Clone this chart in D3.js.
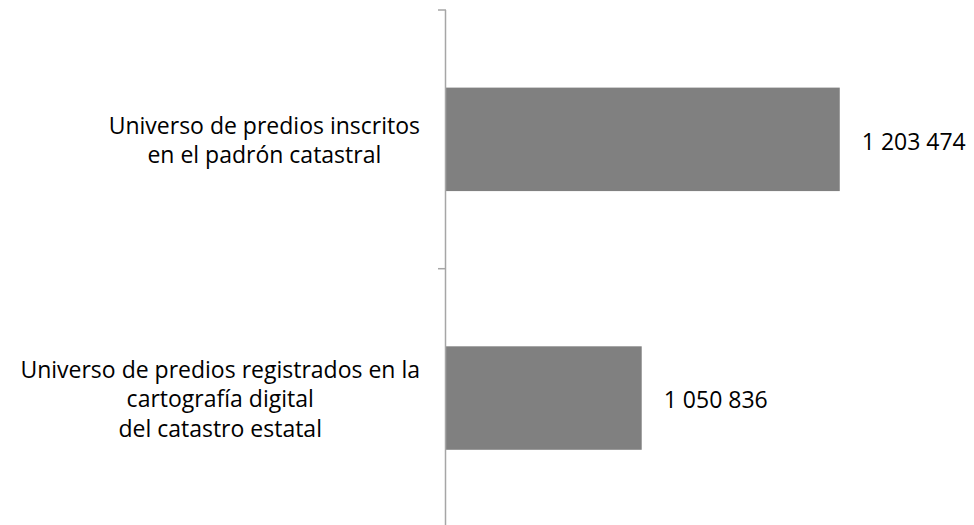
<!DOCTYPE html>
<html>
<head>
<meta charset="utf-8">
<script src="https://cdn.jsdelivr.net/npm/d3@7"></script>
<style>
  body { margin: 0; background: #fff; }
  text { font-family: "Open Sans", Lato, sans-serif; fill: #000; }
</style>
</head>
<body>
<script>
// data
var categories = [
  ["Universo de predios inscritos", "en el padrón catastral"],
  ["Universo de predios registrados en la", "cartografía digital", "del catastro estatal"]
];
var values = [1203474, 1050836];
var xDomain = [900000, 1300000];

var width = 974, height = 525;
var axisX = 446;
var fontSize = "23px";

var fmt = d3.formatLocale({ decimal: ".", thousands: " ", grouping: [3], currency: ["", ""] }).format(",d");

var svg = d3.select("body")
  .append("svg")
    .attr("width", width)
    .attr("height", height);

var x = d3.scaleLinear()
  .domain(xDomain)
  .range([axisX, 965]);

var y = d3.scaleBand()
  .domain(d3.range(values.length))
  .range([10, 527.4])
  .paddingInner(0.6)
  .paddingOuter(0.3);

// bars
svg.selectAll("rect.bar")
  .data(values)
  .enter()
  .append("rect")
    .attr("class", "bar")
    .attr("x", x(xDomain[0]))
    .attr("y", function(d, i) { return y(i); })
    .attr("width", function(d) { return x(d) - x(xDomain[0]); })
    .attr("height", y.bandwidth())
    .attr("fill", "#808080");

// value labels
svg.selectAll("text.val")
  .data(values)
  .enter()
  .append("text")
    .attr("class", "val")
    .attr("x", function(d) { return x(d) + 22; })
    .attr("y", function(d, i) { return y(i) + y.bandwidth() / 2 + 2; })
    .attr("dy", "0.36em")
    .style("font-size", fontSize)
    .text(function(d) { return fmt(d); });

// category axis: line + ticks between categories
var step = y.step();
var boundaries = d3.range(values.length + 1).map(function(i) {
  return y.range()[0] + i * step;
});

svg.append("line")
  .attr("x1", axisX - 0.5).attr("x2", axisX - 0.5)
  .attr("y1", boundaries[0]).attr("y2", boundaries[boundaries.length - 1])
  .attr("stroke", "#a6a6a6")
  .attr("stroke-width", 1.5);

svg.selectAll("line.tick")
  .data(boundaries)
  .enter()
  .append("line")
    .attr("class", "tick")
    .attr("x1", axisX - 8).attr("x2", axisX)
    .attr("y1", function(d) { return d; })
    .attr("y2", function(d) { return d; })
    .attr("stroke", "#a6a6a6")
    .attr("stroke-width", 1.5);

// category labels, centred lines, block right edge near 420
var lineH = 29.5;
var labels = svg.selectAll("g.cat")
  .data(categories)
  .enter()
  .append("g")
    .attr("class", "cat");

labels.each(function(lines, i) {
  var g = d3.select(this);
  var cy = y(i) + y.bandwidth() / 2 + 1;
  var t = g.append("text")
    .attr("text-anchor", "middle")
    .style("font-size", fontSize);
  lines.forEach(function(s, j) {
    t.append("tspan")
      .attr("x", 0)
      .attr("y", cy + (j - (lines.length - 1) / 2) * lineH)
      .attr("dy", "0.36em")
      .text(s);
  });
  var w = t.node().getBBox().width;
  t.attr("transform", "translate(" + (420 - w / 2) + ",0)");
});
</script>
</body>
</html>
